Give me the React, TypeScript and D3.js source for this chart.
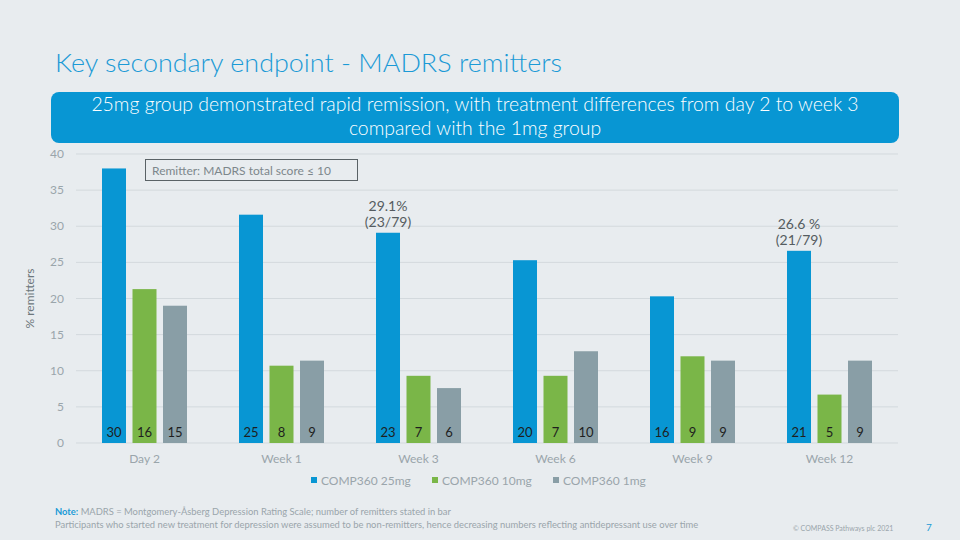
import React from "react";
import * as d3 from "d3";

const categories = ["Day 2", "Week 1", "Week 3", "Week 6", "Week 9", "Week 12"];
const seriesNames = ["COMP360 25mg", "COMP360 10mg", "COMP360 1mg"];
const values25 = [38.0, 31.6, 29.1, 25.3, 20.3, 26.6];
const values10 = [21.3, 10.7, 9.3, 9.3, 12.0, 6.7];
const values1 = [19.0, 11.4, 7.6, 12.7, 11.4, 11.4];
const counts25 = [30, 25, 23, 20, 16, 21];
const counts10 = [16, 8, 7, 7, 9, 5];
const counts1 = [15, 9, 6, 10, 9, 9];
const yTicks = [0, 5, 10, 15, 20, 25, 30, 35, 40];
const colors = ["#0896d3", "#7ab648", "#899ea6"];
const annotations = [
  { cat: "Week 3", lines: ["29.1%", "(23/79)"], value: 29.1 },
  { cat: "Week 12", lines: ["26.6 %", "(21/79)"], value: 26.6 },
];

const W = 960;
const H = 540;
const FONT = "Lato, 'Open Sans', sans-serif";

export default function App() {
  const x0 = d3.scaleBand<string>().domain(categories).range([76, 898]).padding(0);
  const groupW = 85;
  const x1 = d3.scaleBand<string>().domain(seriesNames).range([0, groupW]).paddingInner(0.213);
  const y = d3.scaleLinear().domain([0, 40]).range([443, 154]);
  const allValues = [values25, values10, values1];
  const allCounts = [counts25, counts10, counts1];
  const groupOffset = (x0.bandwidth() - groupW) / 2;

  return (
    <svg width={W} height={H} style={{ position: "absolute", left: 0, top: 0, fontFamily: FONT }}>
      <rect x={0} y={0} width={W} height={H} fill="#e8ecef" />
      {/* Title */}
      <text x={55} y={72} fontSize={26} fontWeight={300} fill="#1b9ad6" textLength={507} lengthAdjust="spacingAndGlyphs">
        Key secondary endpoint - MADRS remitters
      </text>
      {/* Banner */}
      <rect x={51} y={92} width={848} height={51} rx={8} fill="#0896d3" />
      <text x={475} y={111} fontSize={19.4} fontWeight={300} fill="#ffffff" textAnchor="middle">
        25mg group demonstrated rapid remission, with treatment differences from day 2 to week 3
      </text>
      <text x={475} y={135} fontSize={19.4} fontWeight={300} fill="#ffffff" textAnchor="middle">
        compared with the 1mg group
      </text>
      {/* Gridlines & y ticks */}
      {yTicks.map((t) => (
        <g key={t}>
          <line x1={76} x2={898} y1={y(t)} y2={y(t)} stroke="#d3d9dd" strokeWidth={1} />
          <text x={64} y={y(t) + 4} fontSize={12} fill="#9aa5ab" textAnchor="end">
            {t}
          </text>
        </g>
      ))}
      <text
        transform={`translate(34, ${y(20)}) rotate(-90)`}
        fontSize={12}
        fill="#6d777c"
        textAnchor="middle"
      >
        % remitters
      </text>
      {/* Bars */}
      {categories.map((c, i) => (
        <g key={c} transform={`translate(${(x0(c) ?? 0) + groupOffset},0)`}>
          {seriesNames.map((s, j) => {
            const v = allValues[j][i];
            const bx = x1(s) ?? 0;
            return (
              <g key={s}>
                <rect x={bx} y={y(v)} width={x1.bandwidth()} height={y(0) - y(v)} fill={colors[j]} />
                <text
                  x={bx + x1.bandwidth() / 2}
                  y={437}
                  fontSize={13}
                  fill="#1e1e1e"
                  textAnchor="middle"
                >
                  {allCounts[j][i]}
                </text>
              </g>
            );
          })}
        </g>
      ))}
      {/* Category labels */}
      {categories.map((c) => (
        <text
          key={c}
          x={(x0(c) ?? 0) + x0.bandwidth() / 2}
          y={463}
          fontSize={12}
          fill="#9aa5ab"
          textAnchor="middle"
        >
          {c}
        </text>
      ))}
      {/* Annotations */}
      {annotations.map((a) => {
        const cx = (x0(a.cat) ?? 0) + groupOffset + (x1(seriesNames[0]) ?? 0) + x1.bandwidth() / 2;
        const top = y(a.value);
        return (
          <g key={a.cat}>
            <text x={cx} y={top - 22} fontSize={14} fill="#555c60" textAnchor="middle">
              {a.lines[0]}
            </text>
            <text x={cx} y={top - 6} fontSize={14} fill="#555c60" textAnchor="middle">
              {a.lines[1]}
            </text>
          </g>
        );
      })}
      {/* Remitter box */}
      <rect x={145.5} y={159.5} width={212} height={21} fill="none" stroke="#5a6266" strokeWidth={1} />
      <text x={152} y={174.5} fontSize={12} fill="#7d878c">
        Remitter: MADRS total score ≤ 10
      </text>
      {/* Legend */}
      {seriesNames.map((s, j) => {
        const lx = [311, 432, 553][j];
        return (
          <g key={s}>
            <rect x={lx} y={477} width={6} height={6} fill={colors[j]} />
            <text x={lx + 10} y={485} fontSize={12} fill="#9aa5ab">
              {s}
            </text>
          </g>
        );
      })}
      {/* Footnotes */}
      <text x={55} y={515} fontSize={9.4} fill="#9aa5ab">
        <tspan fill="#1b9ad6" fontWeight={700}>Note:</tspan> MADRS = Montgomery-Åsberg Depression Rating Scale; number of remitters stated in bar
      </text>
      <text x={55} y={528} fontSize={9.4} fill="#9aa5ab">
        Participants who started new treatment for depression were assumed to be non-remitters, hence decreasing numbers reflecting antidepressant use over time
      </text>
      <text x={793} y={531} fontSize={7} fill="#9aa5ab">
        © COMPASS Pathways plc 2021
      </text>
      <text x={926} y={531} fontSize={10} fill="#1b9ad6">
        7
      </text>
    </svg>
  );
}
